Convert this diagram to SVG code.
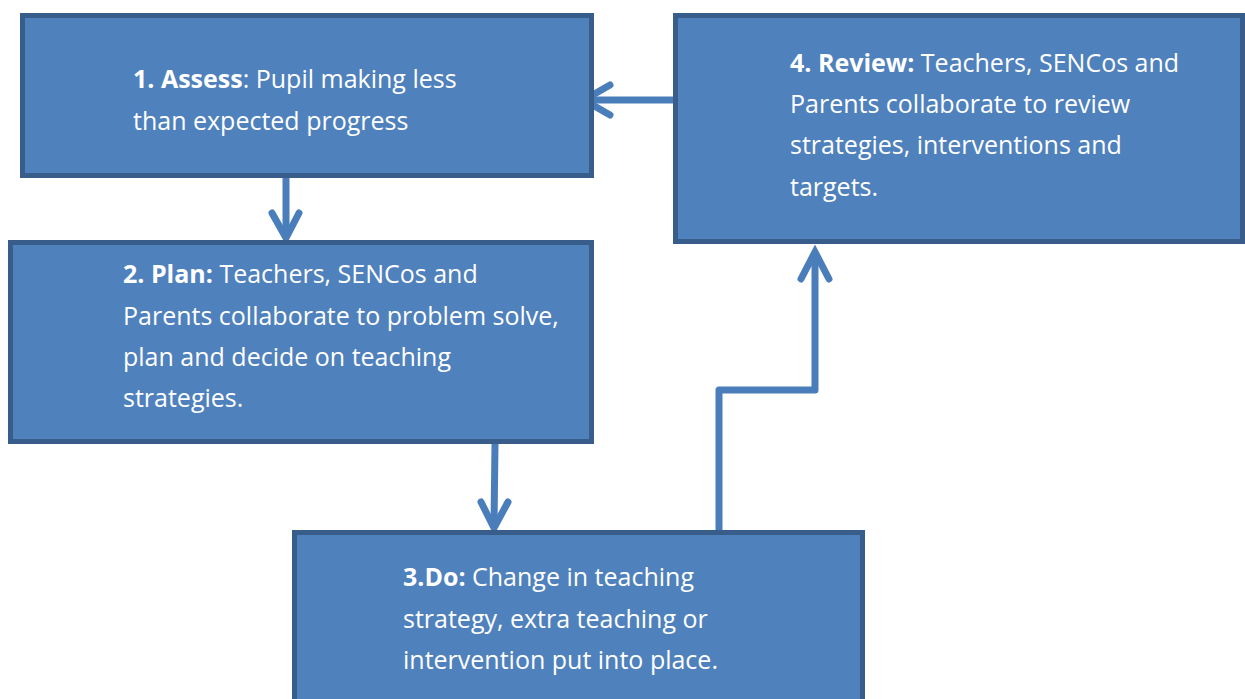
<svg xmlns="http://www.w3.org/2000/svg" width="1245" height="699" viewBox="0 0 1245 699">
  <style>
    .box { fill: #4f81bd; stroke: #385d8a; stroke-width: 5; }
    .txt { font-family: "Open Sans", "Liberation Sans", sans-serif; font-size: 25px; fill: #ffffff; }
    .b { font-weight: bold; }
    .link { fill: none; stroke: #4a7ebb; stroke-width: 7; stroke-linejoin: round; }
    .head { fill: none; stroke: #4a7ebb; stroke-width: 7; stroke-linecap: round; stroke-linejoin: miter; }
  </style>
  <rect width="1245" height="699" fill="#ffffff"/>

  <g id="connectors">
    <!-- Review to Assess -->
    <path class="link" d="M673 100 H586"/>
    <path class="head" d="M610 85 L584 100 L610 115"/>
    <!-- Assess to Plan -->
    <path class="link" d="M286 178 V236"/>
    <path class="head" d="M272 213 L286 238 L299 213"/>
    <!-- Plan to Do -->
    <path class="link" d="M495 444 L494 526"/>
    <path class="head" d="M481 502 L494 528 L508 502"/>
    <!-- Do to Review -->
    <path class="link" d="M719 530 V390 H815 V252"/>
    <path class="head" d="M801 279 L815 252 L829 279"/>
  </g>

  <g id="assess">
    <rect class="box" x="22.5" y="15.5" width="569" height="160"/>
    <text class="txt" x="133" y="88"><tspan class="b">1. Assess</tspan>: Pupil making less</text>
    <text class="txt" x="133" y="130">than expected progress</text>
  </g>

  <g id="review">
    <rect class="box" x="675.5" y="15.5" width="567" height="226"/>
    <text class="txt" x="790" y="72"><tspan class="b">4. Review:</tspan> Teachers, SENCos and</text>
    <text class="txt" x="790" y="113">Parents collaborate to review</text>
    <text class="txt" x="790" y="154">strategies, interventions and</text>
    <text class="txt" x="790" y="196">targets.</text>
  </g>

  <g id="plan">
    <rect class="box" x="10.5" y="242.5" width="581" height="199"/>
    <text class="txt" x="123" y="283"><tspan class="b">2. Plan:</tspan> Teachers, SENCos and</text>
    <text class="txt" x="123" y="325">Parents collaborate to problem solve,</text>
    <text class="txt" x="123" y="366">plan and decide on teaching</text>
    <text class="txt" x="123" y="407">strategies.</text>
  </g>

  <g id="do">
    <rect class="box" x="294.5" y="532.5" width="568" height="180"/>
    <text class="txt" x="403" y="586"><tspan class="b">3.Do:</tspan> Change in teaching</text>
    <text class="txt" x="403" y="628">strategy, extra teaching or</text>
    <text class="txt" x="403" y="669">intervention put into place.</text>
  </g>
</svg>
